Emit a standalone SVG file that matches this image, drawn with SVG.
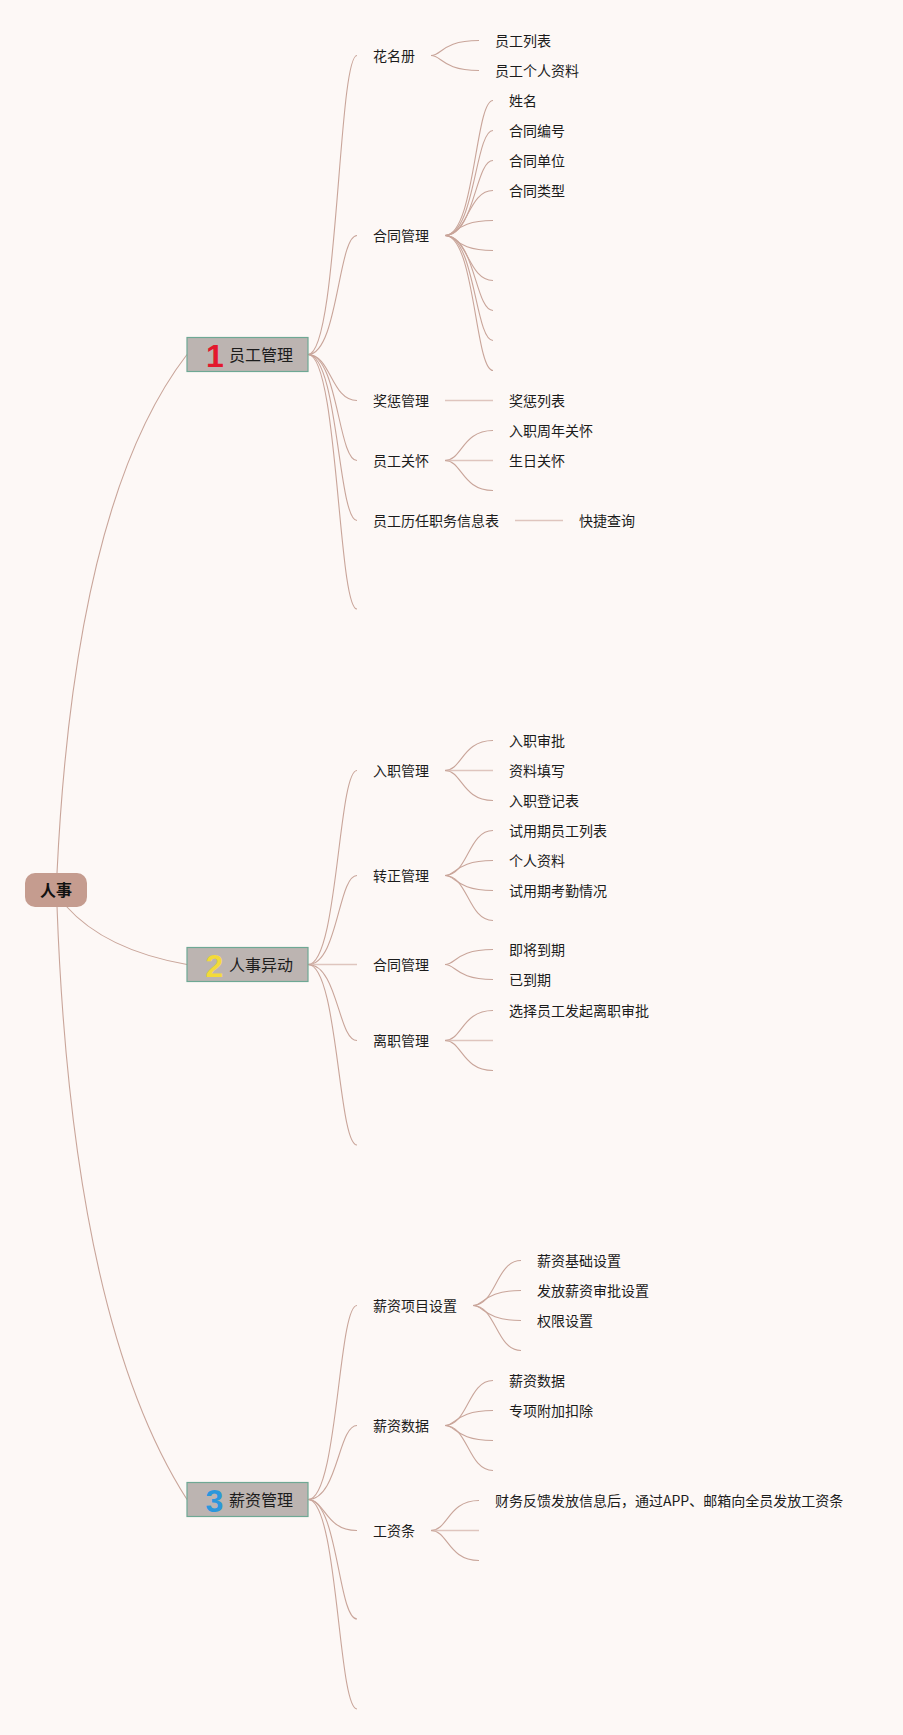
<svg xmlns="http://www.w3.org/2000/svg" width="903" height="1735" viewBox="0 0 903 1735">
<style>
.c{fill:none;stroke:#c9a59a;stroke-width:1.1}
.h{fill:none;stroke:#dfc5be;stroke-width:1.6}
.t{font-family:"Noto Sans CJK SC","Noto Sans",sans-serif;font-size:14px;fill:#1c1c1c}
.t1{font-family:"Noto Sans CJK SC","Noto Sans",sans-serif;font-size:16px;fill:#1c1c1c}
.box{fill:#bcb4b1;stroke:#6ea894;stroke-width:1.2}
.num{font-family:"Liberation Sans",Arial,sans-serif;font-weight:bold;font-size:32px;text-anchor:middle}
</style>
<rect width="903" height="1735" fill="#fdf8f6"/>
<g id="connectors">
<path class="c" d="M57 873 Q75 500 187 354.5"/>
<path class="c" d="M66 906 Q105 950 187 964.5"/>
<path class="c" d="M57 906 Q72 1320 187 1499.5"/>
<path class="c" d="M308 354.5 C338 354.5 338 55.5 357 55.5"/>
<path class="c" d="M308 354.5 C338 354.5 338 235.5 357 235.5"/>
<path class="c" d="M308 354.5 C331 354.5 331 400.5 357 400.5"/>
<path class="c" d="M308 354.5 C338 354.5 338 460.5 357 460.5"/>
<path class="c" d="M308 354.5 C338 354.5 338 520.5 357 520.5"/>
<path class="c" d="M308 354.5 C338 354.5 338 609 357 609"/>
<path class="c" d="M431 55.5 C442 55.5 442 40.5 479 40.5"/>
<path class="c" d="M431 55.5 C442 55.5 442 70.5 479 70.5"/>
<path class="c" d="M445 235.5 C475 235.5 475 100.5 493 100.5"/>
<path class="c" d="M445 235.5 C475 235.5 475 130.5 493 130.5"/>
<path class="c" d="M445 235.5 C475 235.5 475 160.5 493 160.5"/>
<path class="c" d="M445 235.5 C468 235.5 468 190.5 493 190.5"/>
<path class="c" d="M445 235.5 C456 235.5 456 220.5 493 220.5"/>
<path class="c" d="M445 235.5 C456 235.5 456 250.5 493 250.5"/>
<path class="c" d="M445 235.5 C468 235.5 468 280.5 493 280.5"/>
<path class="c" d="M445 235.5 C475 235.5 475 310.5 493 310.5"/>
<path class="c" d="M445 235.5 C475 235.5 475 340.5 493 340.5"/>
<path class="c" d="M445 235.5 C475 235.5 475 370.5 493 370.5"/>
<path class="h" d="M445 400.5 H493"/>
<path class="c" d="M445 460.5 C462 460.5 462 430.5 493 430.5"/>
<path class="h" d="M445 460.5 H493"/>
<path class="c" d="M445 460.5 C462 460.5 462 490.5 493 490.5"/>
<path class="h" d="M515 520.5 H563"/>
<path class="c" d="M308 964.5 C338 964.5 338 770.5 357 770.5"/>
<path class="c" d="M308 964.5 C338 964.5 338 875.5 357 875.5"/>
<path class="h" d="M308 964.5 H357"/>
<path class="c" d="M308 964.5 C338 964.5 338 1040.5 357 1040.5"/>
<path class="c" d="M308 964.5 C338 964.5 338 1145 357 1145"/>
<path class="c" d="M445 770.5 C462 770.5 462 740.5 493 740.5"/>
<path class="h" d="M445 770.5 H493"/>
<path class="c" d="M445 770.5 C462 770.5 462 800.5 493 800.5"/>
<path class="c" d="M445 875.5 C468 875.5 468 830.5 493 830.5"/>
<path class="c" d="M445 875.5 C456 875.5 456 860.5 493 860.5"/>
<path class="c" d="M445 875.5 C456 875.5 456 890.5 493 890.5"/>
<path class="c" d="M445 875.5 C468 875.5 468 920.5 493 920.5"/>
<path class="c" d="M445 964.5 C456 964.5 456 949.5 493 949.5"/>
<path class="c" d="M445 964.5 C456 964.5 456 979.5 493 979.5"/>
<path class="c" d="M445 1040.5 C462 1040.5 462 1010.5 493 1010.5"/>
<path class="h" d="M445 1040.5 H493"/>
<path class="c" d="M445 1040.5 C462 1040.5 462 1070.5 493 1070.5"/>
<path class="c" d="M308 1499.5 C338 1499.5 338 1305.5 357 1305.5"/>
<path class="c" d="M308 1499.5 C338 1499.5 338 1425.5 357 1425.5"/>
<path class="c" d="M308 1499.5 C325 1499.5 325 1530.5 357 1530.5"/>
<path class="c" d="M308 1499.5 C338 1499.5 338 1619 357 1619"/>
<path class="c" d="M308 1499.5 C338 1499.5 338 1709 357 1709"/>
<path class="c" d="M473 1305.5 C496 1305.5 496 1260.5 521 1260.5"/>
<path class="c" d="M473 1305.5 C484 1305.5 484 1290.5 521 1290.5"/>
<path class="c" d="M473 1305.5 C484 1305.5 484 1320.5 521 1320.5"/>
<path class="c" d="M473 1305.5 C496 1305.5 496 1350.5 521 1350.5"/>
<path class="c" d="M445 1425.5 C468 1425.5 468 1380.5 493 1380.5"/>
<path class="c" d="M445 1425.5 C456 1425.5 456 1410.5 493 1410.5"/>
<path class="c" d="M445 1425.5 C456 1425.5 456 1440.5 493 1440.5"/>
<path class="c" d="M445 1425.5 C468 1425.5 468 1470.5 493 1470.5"/>
<path class="c" d="M431 1530.5 C448 1530.5 448 1500.5 479 1500.5"/>
<path class="h" d="M431 1530.5 H479"/>
<path class="c" d="M431 1530.5 C448 1530.5 448 1560.5 479 1560.5"/>
</g>
<g id="root">
<rect x="25" y="873" width="62" height="34" rx="10" fill="#c59c8f"/>
<text x="56" y="896" text-anchor="middle" style="font-family:'Noto Sans CJK SC',sans-serif;font-size:16px;font-weight:bold;fill:#111">人事</text>
</g>
<g id="n1">
<rect class="box" x="187" y="337.5" width="121" height="34"/>
<text class="num" x="215" y="367" fill="#e3182d">1</text>
<text class="t1" x="229" y="360.5">员工管理</text>
</g>
<g id="n1-1"><text class="t" x="373" y="60.5">花名册</text></g>
<g id="n1-1-1"><text class="t" x="495" y="45.5">员工列表</text></g>
<g id="n1-1-2"><text class="t" x="495" y="75.5">员工个人资料</text></g>
<g id="n1-2"><text class="t" x="373" y="240.5">合同管理</text></g>
<g id="n1-2-1"><text class="t" x="509" y="105.5">姓名</text></g>
<g id="n1-2-2"><text class="t" x="509" y="135.5">合同编号</text></g>
<g id="n1-2-3"><text class="t" x="509" y="165.5">合同单位</text></g>
<g id="n1-2-4"><text class="t" x="509" y="195.5">合同类型</text></g>
<g id="n1-3"><text class="t" x="373" y="405.5">奖惩管理</text></g>
<g id="n1-3-1"><text class="t" x="509" y="405.5">奖惩列表</text></g>
<g id="n1-4"><text class="t" x="373" y="465.5">员工关怀</text></g>
<g id="n1-4-1"><text class="t" x="509" y="435.5">入职周年关怀</text></g>
<g id="n1-4-2"><text class="t" x="509" y="465.5">生日关怀</text></g>
<g id="n1-5"><text class="t" x="373" y="525.5">员工历任职务信息表</text></g>
<g id="n1-5-1"><text class="t" x="579" y="525.5">快捷查询</text></g>
<g id="n2">
<rect class="box" x="187" y="947.5" width="121" height="34"/>
<text class="num" x="214.5" y="977" fill="#f3da3a">2</text>
<text class="t1" x="229" y="970.5">人事异动</text>
</g>
<g id="n2-1"><text class="t" x="373" y="775.5">入职管理</text></g>
<g id="n2-1-1"><text class="t" x="509" y="745.5">入职审批</text></g>
<g id="n2-1-2"><text class="t" x="509" y="775.5">资料填写</text></g>
<g id="n2-1-3"><text class="t" x="509" y="805.5">入职登记表</text></g>
<g id="n2-2"><text class="t" x="373" y="880.5">转正管理</text></g>
<g id="n2-2-1"><text class="t" x="509" y="835.5">试用期员工列表</text></g>
<g id="n2-2-2"><text class="t" x="509" y="865.5">个人资料</text></g>
<g id="n2-2-3"><text class="t" x="509" y="895.5">试用期考勤情况</text></g>
<g id="n2-3"><text class="t" x="373" y="969.5">合同管理</text></g>
<g id="n2-3-1"><text class="t" x="509" y="954.5">即将到期</text></g>
<g id="n2-3-2"><text class="t" x="509" y="984.5">已到期</text></g>
<g id="n2-4"><text class="t" x="373" y="1045.5">离职管理</text></g>
<g id="n2-4-1"><text class="t" x="509" y="1015.5">选择员工发起离职审批</text></g>
<g id="n3">
<rect class="box" x="187" y="1482.5" width="121" height="34"/>
<text class="num" x="214.5" y="1512" fill="#2b97dc">3</text>
<text class="t1" x="229" y="1505.5">薪资管理</text>
</g>
<g id="n3-1"><text class="t" x="373" y="1310.5">薪资项目设置</text></g>
<g id="n3-1-1"><text class="t" x="537" y="1265.5">薪资基础设置</text></g>
<g id="n3-1-2"><text class="t" x="537" y="1295.5">发放薪资审批设置</text></g>
<g id="n3-1-3"><text class="t" x="537" y="1325.5">权限设置</text></g>
<g id="n3-2"><text class="t" x="373" y="1430.5">薪资数据</text></g>
<g id="n3-2-1"><text class="t" x="509" y="1385.5">薪资数据</text></g>
<g id="n3-2-2"><text class="t" x="509" y="1415.5">专项附加扣除</text></g>
<g id="n3-3"><text class="t" x="373" y="1535.5">工资条</text></g>
<g id="n3-3-1"><text class="t" x="495" y="1505.5">财务反馈发放信息后，通过APP、邮箱向全员发放工资条</text></g>
</svg>
